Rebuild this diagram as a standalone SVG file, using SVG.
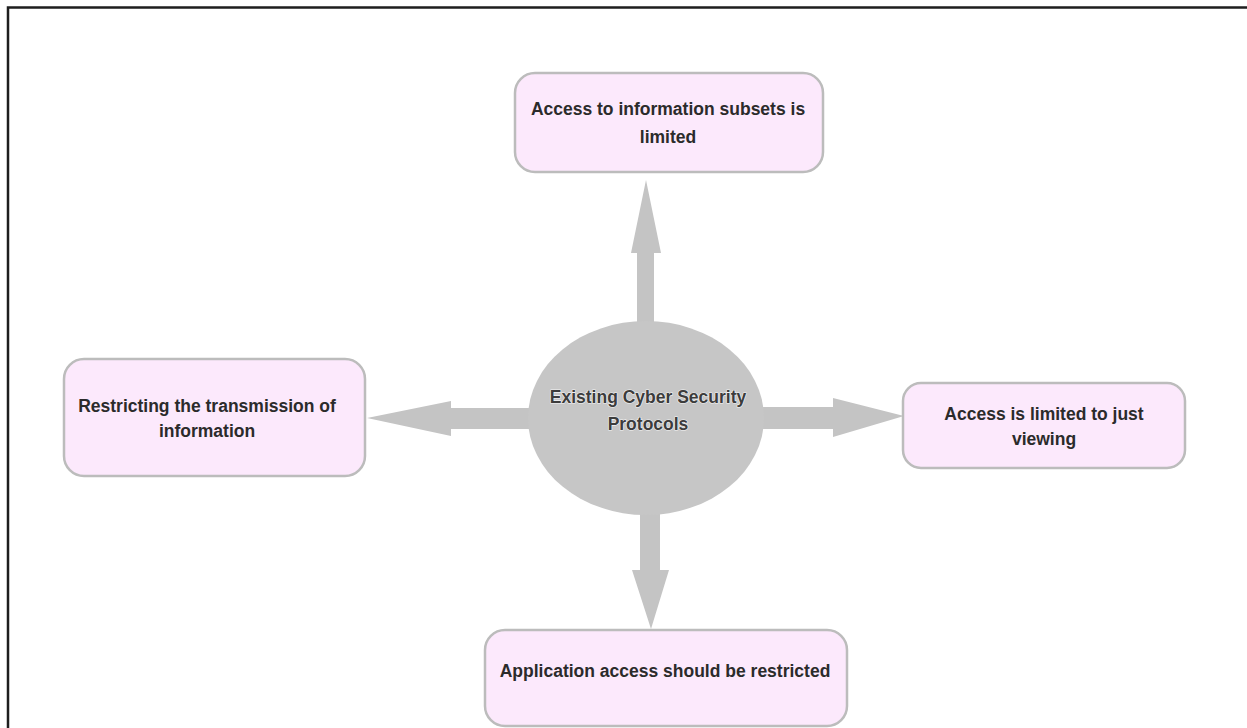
<svg xmlns="http://www.w3.org/2000/svg" width="1247" height="728" viewBox="0 0 1247 728">
  <style>
    .box { fill: #fce9fc; stroke: #bcbcbc; stroke-width: 2.5; }
    .arrow { fill: #c4c4c4; stroke: none; }
    .label { font-family: "Liberation Sans", Arial, sans-serif; font-weight: bold; font-size: 17.5px; fill: #2b2b2b; text-anchor: middle; }
    .hub { font-family: "Liberation Sans", Arial, sans-serif; font-weight: bold; font-size: 17.5px; fill: #3c3c3c; text-anchor: middle; stroke: #f4f4f4; stroke-width: 1.2; paint-order: stroke; stroke-linejoin: round; }
  </style>

  <!-- page background and frame -->
  <rect x="0" y="0" width="1247" height="728" fill="#ffffff"/>
  <path d="M8,740 L8,7.5 L1260,7.5" fill="none" stroke="#1e1e1e" stroke-width="2.5"/>

  <!-- connectors: block arrows radiating from the hub -->
  <g id="connectors">
    <!-- up -->
    <polygon class="arrow" points="637,330 637,253 631,253 646,180 661,253 654,253 654,330"/>
    <!-- left -->
    <polygon class="arrow" points="540,408 451,408 451,401 367,418 451,436 451,429 540,429"/>
    <!-- right -->
    <polygon class="arrow" points="755,407 833,407 833,398 904,416 833,437 833,429 755,429"/>
    <!-- down -->
    <polygon class="arrow" points="640,505 640,570 632,570 651,629 669,570 660,570 660,505"/>
  </g>

  <!-- central hub -->
  <g id="hub">
    <ellipse cx="646" cy="418" rx="118" ry="97" fill="#c6c6c6"/>
    <text class="hub" x="648" y="403">Existing Cyber Security</text>
    <text class="hub" x="648" y="430">Protocols</text>
  </g>

  <g id="node-top">
    <rect class="box" x="515" y="73" width="308" height="99" rx="20" ry="20"/>
    <text class="label" x="668" y="115">Access to information subsets is</text>
    <text class="label" x="668" y="143">limited</text>
  </g>

  <g id="node-left">
    <rect class="box" x="64" y="359" width="301" height="117" rx="20" ry="20"/>
    <text class="label" x="207" y="412">Restricting the transmission of</text>
    <text class="label" x="207" y="437">information</text>
  </g>

  <g id="node-right">
    <rect class="box" x="903" y="383" width="282" height="85" rx="18" ry="18"/>
    <text class="label" x="1044" y="420">Access is limited to just</text>
    <text class="label" x="1044" y="445">viewing</text>
  </g>

  <g id="node-bottom">
    <rect class="box" x="485" y="630" width="362" height="96" rx="20" ry="20"/>
    <text class="label" x="665" y="677">Application access should be restricted</text>
  </g>
</svg>
